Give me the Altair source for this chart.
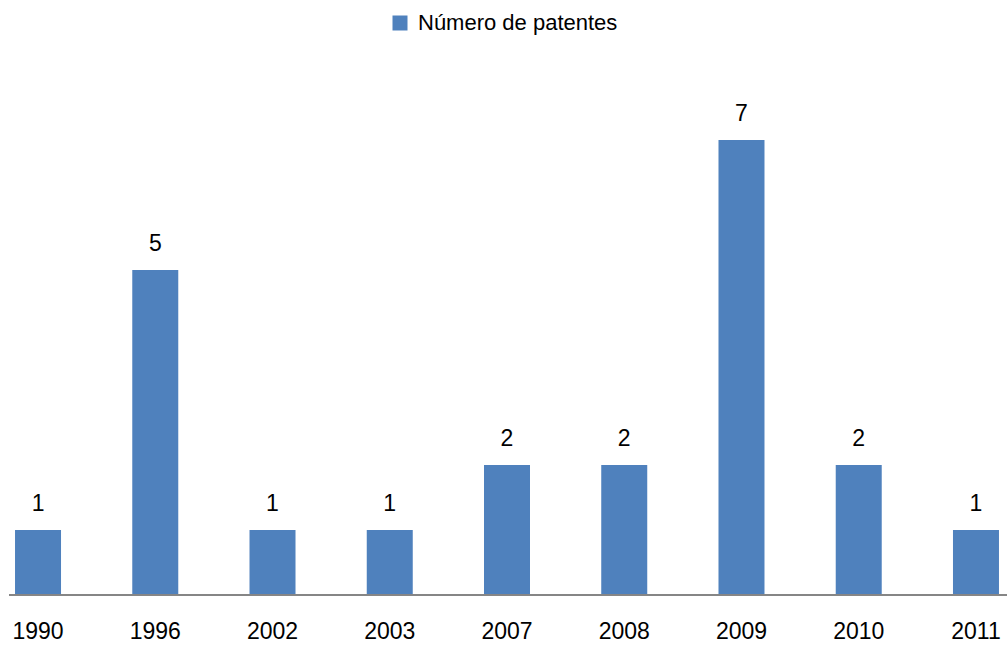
import altair as alt
import pandas as pd

# Patent counts per year
years = ["1990", "1996", "2002", "2003", "2007", "2008", "2009", "2010", "2011"]
patents = [1, 5, 1, 1, 2, 2, 7, 2, 1]
series_name = "Número de patentes"

df = pd.DataFrame({"year": years, "count": patents, "series": [series_name] * len(years)})

W, H = 998, 520
FONT = "Liberation Sans"
BAR = "#4F81BD"

x_enc = alt.X(
    "year:N",
    sort=years,
    title=None,
    scale=alt.Scale(range=[-29.6, 1025.6], paddingInner=0.608, paddingOuter=0.304),
    axis=alt.Axis(
        domain=False, ticks=False, tickSize=0, grid=False, labelAngle=0,
        labelFont=FONT, labelFontSize=23, labelColor="#000000",
        labelBaseline="alphabetic", labelPadding=43,
    ),
)
y_enc = alt.Y("count:Q", title=None, scale=alt.Scale(domain=[0, 8]), axis=None)

bars = alt.Chart(df).mark_bar(size=46).encode(
    x=x_enc,
    y=y_enc,
    color=alt.Color(
        "series:N",
        scale=alt.Scale(domain=[series_name], range=[BAR]),
        legend=alt.Legend(
            title=None, orient="none", legendX=380, legendY=-63,
            symbolType="square", symbolSize=225, symbolStrokeWidth=0,
            labelFont=FONT, labelFontSize=22, labelColor="#000000", labelOffset=7,
            labelLimit=0,
        ),
    ),
)

labels = alt.Chart(df).mark_text(
    dy=-19, baseline="alphabetic", font=FONT, fontSize=23, color="#000000"
).encode(x=alt.X("year:N", sort=years), y="count:Q", text="count:Q")

baseline = alt.Chart(df).mark_rule(color="#868686", strokeWidth=1.5).encode(
    x=alt.value(0), x2=alt.value(W), y=alt.value(H)
)

chart = alt.layer(bars, labels, baseline).properties(
    width=W, height=H,
    autosize=alt.AutoSizeParams(type="none"),
    padding={"left": 9, "top": 75, "right": 0, "bottom": 51},
    background="#ffffff",
).configure_view(stroke=None)

chart.save("out.html", embed_options={"renderer": "svg", "actions": False})
